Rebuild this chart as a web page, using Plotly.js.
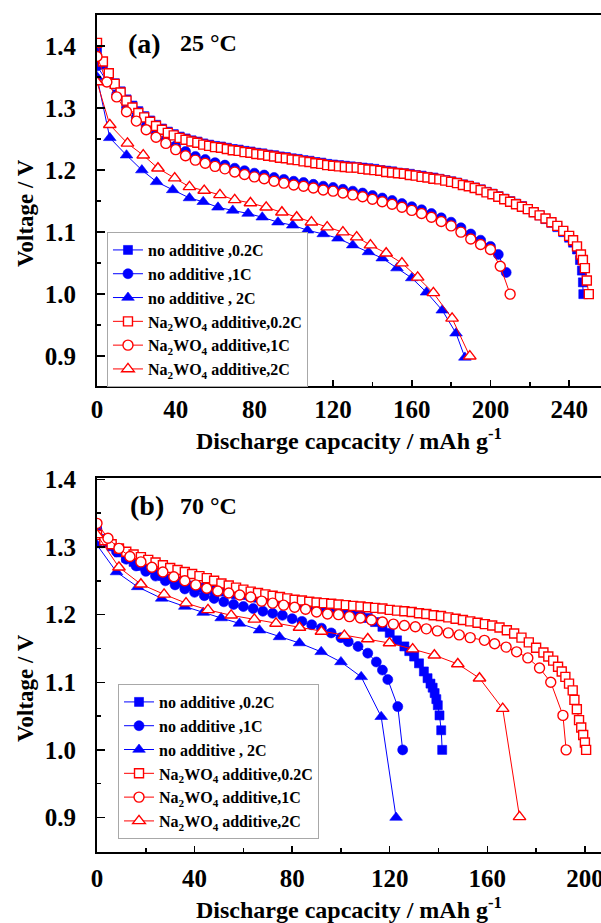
<!DOCTYPE html>
<html><head><meta charset="utf-8">
<script src="https://cdn.plot.ly/plotly-3.0.1.min.js"></script>
<style>html,body{margin:0;padding:0;background:#fff}#chart{width:601px;height:923px}</style>
</head><body><div id="chart"></div>
<script>
// ---------- Legend labels ----------
const names = [
  'no additive ,0.2C', 'no additive ,1C', 'no additive , 2C',
  'Na<sub>2</sub>WO<sub>4</sub> additive,0.2C', 'Na<sub>2</sub>WO<sub>4</sub> additive,1C', 'Na<sub>2</sub>WO<sub>4</sub> additive,2C'
];
const xTickLabelsTop = [0, 40, 80, 120, 160, 200, 240];
const xTickLabelsBottom = [0, 40, 80, 120, 160, 200];

// ---------- (a) 25 °C ----------
const a_no02_x = [0,3,6,9,12,15,18,21,24,27,30,33,36,39,42,45,48,51,54,57,60,63,66,69,72,75,78,81,84,87,90,93,96,99,102,105,108,111,114,117,120,123,126,129,132,135,138,141,144,147,150,153,156,159,162,165,168,171,174,177,180,183,186,189,192,195,198,201,204,207,210,213,216,219,222,225,228,231,234,237,240,242,244,245.5,246.5,247,247.2];
const a_no02_v = [1.392,1.370,1.355,1.340,1.327,1.314,1.304,1.295,1.287,1.280,1.273,1.267,1.262,1.258,1.254,1.251,1.248,1.246,1.243,1.241,1.239,1.238,1.236,1.234,1.233,1.231,1.230,1.228,1.227,1.225,1.224,1.222,1.221,1.219,1.218,1.216,1.215,1.213,1.212,1.210,1.209,1.208,1.207,1.206,1.205,1.204,1.203,1.202,1.200,1.199,1.198,1.196,1.195,1.194,1.192,1.191,1.189,1.188,1.186,1.184,1.182,1.180,1.177,1.175,1.172,1.169,1.165,1.162,1.158,1.154,1.150,1.146,1.142,1.137,1.132,1.127,1.121,1.115,1.108,1.100,1.091,1.083,1.072,1.055,1.038,1.019,1.000];
const a_no1_x = [0,5,10,15,20,25,30,35,40,45,50,55,60,65,70,75,80,85,90,95,100,105,110,115,120,125,130,135,140,145,150,155,160,165,170,175,180,185,190,195,200,204,208];
const a_no1_v = [1.368,1.343,1.322,1.301,1.285,1.271,1.259,1.249,1.239,1.230,1.222,1.217,1.212,1.208,1.203,1.199,1.195,1.192,1.188,1.185,1.182,1.180,1.177,1.174,1.172,1.169,1.166,1.163,1.159,1.155,1.151,1.146,1.141,1.136,1.130,1.123,1.116,1.107,1.097,1.087,1.077,1.064,1.035];
const a_no2_x = [0,6.5,15,22.8,30.3,38.5,47,54,61.5,69,76.8,84,92,99.5,107,115,122.5,130,138,145,152.5,160,167.5,175.5,182.5,187];
const a_no2_v = [1.350,1.252,1.224,1.200,1.181,1.168,1.155,1.149,1.140,1.135,1.130,1.124,1.116,1.111,1.103,1.097,1.090,1.079,1.068,1.058,1.042,1.026,1.003,0.974,0.937,0.898];
const a_na02_x = [0,3,6,9,12,15,18,21,24,27,30,33,36,39,42,45,48,51,54,57,60,63,66,69,72,75,78,81,84,87,90,93,96,99,102,105,108,111,114,117,120,123,126,129,132,135,138,141,144,147,150,153,156,159,162,165,168,171,174,177,180,183,186,189,192,195,198,201,204,207,210,213,216,219,222,225,228,231,234,237,240,242,244,246,247,248,249,250];
const a_na02_v = [1.405,1.375,1.356,1.339,1.325,1.312,1.301,1.292,1.285,1.278,1.271,1.265,1.260,1.256,1.252,1.249,1.246,1.244,1.241,1.239,1.237,1.236,1.234,1.232,1.231,1.229,1.228,1.226,1.225,1.223,1.222,1.220,1.219,1.217,1.216,1.214,1.213,1.211,1.210,1.208,1.207,1.206,1.205,1.204,1.204,1.202,1.201,1.200,1.199,1.197,1.196,1.195,1.194,1.192,1.191,1.189,1.188,1.186,1.185,1.183,1.181,1.179,1.176,1.174,1.171,1.168,1.164,1.161,1.157,1.153,1.149,1.145,1.141,1.137,1.132,1.127,1.122,1.116,1.110,1.102,1.094,1.087,1.077,1.064,1.055,1.042,1.022,1.000];
const a_na1_x = [0,5,10,15,20,25,30,35,40,45,50,55,60,65,70,75,80,85,90,95,100,105,110,115,120,125,130,135,140,145,150,155,160,165,170,175,180,185,190,195,200,205,210];
const a_na1_v = [1.383,1.342,1.318,1.294,1.279,1.265,1.253,1.243,1.233,1.223,1.216,1.211,1.206,1.202,1.197,1.193,1.189,1.186,1.182,1.179,1.176,1.174,1.171,1.168,1.166,1.163,1.160,1.157,1.153,1.149,1.145,1.140,1.135,1.130,1.124,1.117,1.110,1.100,1.089,1.080,1.072,1.045,1.000];
const a_na2_x = [0,6.5,15.5,23.5,31,39.5,47,54.5,62.5,70,78,86,94,101.5,109,117,125,132,139,147,155,163,171,180.5,189.5];
const a_na2_v = [1.342,1.273,1.243,1.224,1.203,1.187,1.173,1.167,1.160,1.152,1.147,1.140,1.132,1.124,1.116,1.108,1.100,1.092,1.079,1.066,1.050,1.027,1.002,0.961,0.900];

// ---------- (b) 70 °C ----------
const b_no02_x = [0,3,6,9,12,15,18,21,24,27,30,33,36,39,42,45,48,51,54,57,60,63,66,69,72,75,78,81,84,87,90,93,96,99,102,105,108,111,114,117,120,123,126,128,130,132,134,135.5,136.7,137.6,138.4,139.1,139.7,140.4,141.1,141.5];
const b_no02_v = [1.328,1.312,1.301,1.292,1.284,1.278,1.272,1.267,1.262,1.257,1.253,1.249,1.246,1.243,1.240,1.238,1.236,1.234,1.232,1.230,1.229,1.227,1.225,1.224,1.222,1.220,1.219,1.217,1.215,1.213,1.211,1.209,1.207,1.205,1.203,1.201,1.199,1.195,1.189,1.182,1.173,1.162,1.153,1.146,1.138,1.128,1.116,1.106,1.098,1.092,1.084,1.075,1.066,1.051,1.029,1.000];
const b_no1_x = [0,4,8,12,16,20,24,28,32,36,40,44,48,52,56,60,64,68,72,76,80,84,88,92,96,100,103,107,111,114.5,117,119.2,123.3,125.3];
const b_no1_v = [1.325,1.307,1.293,1.282,1.272,1.264,1.257,1.250,1.244,1.238,1.233,1.228,1.224,1.219,1.215,1.212,1.209,1.205,1.202,1.199,1.194,1.190,1.185,1.180,1.173,1.166,1.160,1.153,1.143,1.130,1.118,1.104,1.064,1.000];
const b_no2_x = [0,8,16.7,26.5,36,43.5,50.9,58.4,66.6,74.8,83,91.9,100,108.3,116.5,122.6];
const b_no2_v = [1.303,1.263,1.241,1.224,1.212,1.203,1.195,1.187,1.177,1.167,1.158,1.145,1.130,1.108,1.049,0.900];
const b_na02_x = [0,3,6,9,12,15,18,21,24,27,30,33,36,39,42,45,48,51,54,57,60,63,66,69,72,75,78,81,84,87,90,93,96,99,102,105,108,111,114,117,120,123,126,129,132,135,138,141,144,147,150,153,156,159,162,165,168,171,174,177,180,183,185,187,189,190.5,192,193.5,195,195.7,196.7,197.6,198.5,199.3,200,200.5];
const b_na02_v = [1.318,1.310,1.304,1.298,1.293,1.289,1.285,1.281,1.277,1.273,1.269,1.266,1.263,1.260,1.257,1.254,1.250,1.246,1.243,1.240,1.237,1.234,1.232,1.230,1.228,1.226,1.224,1.222,1.221,1.219,1.218,1.217,1.216,1.215,1.214,1.213,1.212,1.211,1.210,1.209,1.207,1.206,1.205,1.204,1.202,1.201,1.199,1.198,1.196,1.194,1.192,1.190,1.188,1.186,1.184,1.181,1.177,1.172,1.166,1.159,1.151,1.144,1.138,1.132,1.123,1.116,1.108,1.098,1.088,1.074,1.060,1.044,1.033,1.022,1.011,1.000];
const b_na1_x = [0,4.5,9,13.5,18,22.5,27,31.5,36,40.5,45,49.5,54,58.5,63,67.5,72,76.5,81,85.5,90,94.5,99,103.5,108,112.5,117,121.5,126,130.5,135,139.5,144,148.5,153,158.8,163,167.7,172,176.6,181.4,186,191,192.3];
const b_na1_v = [1.335,1.313,1.298,1.286,1.278,1.270,1.263,1.256,1.250,1.244,1.239,1.235,1.232,1.229,1.226,1.220,1.217,1.214,1.211,1.208,1.204,1.201,1.200,1.197,1.195,1.192,1.189,1.186,1.184,1.182,1.179,1.176,1.173,1.170,1.166,1.162,1.157,1.152,1.145,1.136,1.121,1.100,1.051,1.000];
const b_na2_x = [0,9,18,27.5,36.5,45.5,55,64.5,73.4,83,92,101.4,111,119.9,129.4,138.3,147.9,156.8,166.3,173.2];
const b_na2_v = [1.318,1.270,1.245,1.230,1.217,1.207,1.199,1.193,1.187,1.181,1.175,1.169,1.164,1.158,1.149,1.140,1.127,1.106,1.061,0.901];

// ---------- styling ----------
const BLUE = '#0000ff', RED = '#ff0000';
const FONT = 'Liberation Serif, Times New Roman, serif';

function tr(x, y, name, color, symbol, open, size, xa, ya, leg) {
  return {
    x: x, y: y, name: name, type: 'scatter', mode: 'lines+markers',
    xaxis: xa, yaxis: ya, legend: leg,
    line: {color: color, width: 1},
    marker: {symbol: symbol, size: size, color: open ? '#ffffff' : color,
             line: {color: color, width: open ? 1.4 : 0.6}}
  };
}

const data = [
  tr(a_no02_x, a_no02_v, names[0], BLUE, 'square', false, 9, 'x', 'y', 'legend'),
  tr(a_no1_x, a_no1_v, names[1], BLUE, 'circle', false, 10, 'x', 'y', 'legend'),
  tr(a_no2_x, a_no2_v, names[2], BLUE, 'triangle-up', false, 11, 'x', 'y', 'legend'),
  tr(a_na02_x, a_na02_v, names[3], RED, 'square', true, 9, 'x', 'y', 'legend'),
  tr(a_na1_x, a_na1_v, names[4], RED, 'circle', true, 10, 'x', 'y', 'legend'),
  tr(a_na2_x, a_na2_v, names[5], RED, 'triangle-up', true, 11, 'x', 'y', 'legend'),
  tr(b_no02_x, b_no02_v, names[0], BLUE, 'square', false, 9, 'x2', 'y2', 'legend2'),
  tr(b_no1_x, b_no1_v, names[1], BLUE, 'circle', false, 10, 'x2', 'y2', 'legend2'),
  tr(b_no2_x, b_no2_v, names[2], BLUE, 'triangle-up', false, 11, 'x2', 'y2', 'legend2'),
  tr(b_na02_x, b_na02_v, names[3], RED, 'square', true, 9, 'x2', 'y2', 'legend2'),
  tr(b_na1_x, b_na1_v, names[4], RED, 'circle', true, 10, 'x2', 'y2', 'legend2'),
  tr(b_na2_x, b_na2_v, names[5], RED, 'triangle-up', true, 11, 'x2', 'y2', 'legend2')
];

const tickFont = {family: FONT, size: 25, color: '#000', weight: 'bold'};
const titleFont = {family: FONT, size: 24, color: '#000', weight: 'bold'};

function xAxis(range, anchor, vals, standoff, tstand) {
  return {
    domain: [0, 1], anchor: anchor, range: range,
    tickmode: 'array', tickvals: vals, ticktext: vals.map(String),
    ticks: 'inside', ticklen: 6, tickwidth: 1.5, tickcolor: '#000',
    ticklabelstandoff: standoff, ticklabeloverflow: 'allow',
    minor: {dtick: 20, tick0: 0, ticks: 'inside', ticklen: 4, tickwidth: 1.5, tickcolor: '#000', showgrid: false},
    showline: true, linewidth: 2, linecolor: '#000', mirror: true,
    showgrid: false, zeroline: false, tickfont: tickFont,
    title: {text: 'Discharge capcacity / mAh g<sup>-1</sup>', font: titleFont, standoff: tstand}
  };
}
function yAxis(domain, range, anchor) {
  return {
    domain: domain, anchor: anchor, range: range,
    tickmode: 'linear', tick0: 0.9, dtick: 0.1, tickformat: '.1f',
    ticks: 'inside', ticklen: 8, tickwidth: 1.5, tickcolor: '#000',
    ticklabelstandoff: 14,
    minor: {dtick: 0.05, tick0: 0.85, ticks: 'inside', ticklen: 4, tickwidth: 1.5, tickcolor: '#000', showgrid: false},
    showline: true, linewidth: 2, linecolor: '#000', mirror: false,
    showgrid: false, zeroline: false, tickfont: tickFont
  };
}
function legendCfg(x, y) {
  return {
    x: x, y: y, xref: 'paper', yref: 'paper', xanchor: 'left', yanchor: 'top',
    bgcolor: '#ffffff', bordercolor: '#a8a8a8', borderwidth: 1,
    font: {family: FONT, size: 16, color: '#000', weight: 'bold'},
    itemwidth: 30, tracegroupgap: 0, traceorder: 'normal'
  };
}
function ann(text, x, y, size, opts) {
  return Object.assign({text: text, x: x, y: y, xref: 'paper', yref: 'paper',
    xanchor: 'left', yanchor: 'middle', showarrow: false,
    font: {family: FONT, size: size, color: '#000', weight: 'bold'}}, opts || {});
}

const layout = {
  width: 601, height: 923,
  margin: {l: 97, r: 0, t: 15, b: 71},
  paper_bgcolor: '#ffffff', plot_bgcolor: '#ffffff',
  showlegend: true,
  xaxis: xAxis([0, 256.2], 'y', xTickLabelsTop, 0, 10),
  yaxis: yAxis([0.5568, 1], [0.852, 1.45], 'x'),
  xaxis2: xAxis([0, 206.6], 'y2', xTickLabelsBottom, 3, 11),
  yaxis2: yAxis([0, 0.4468], [0.849, 1.402], 'x2'),
  legend: legendCfg(0.0198, 0.7407),
  legend2: legendCfg(0.0417, 0.2007),
  annotations: [
    ann('Voltage / V', -0.1429, 0.7634, 23, {textangle: -90, xanchor: 'center'}),
    ann('Voltage / V', -0.1429, 0.1959, 23, {textangle: -90, xanchor: 'center'}),
    ann('(a)', 0.0575, 0.9665, 28),
    ann('25 °C', 0.1607, 0.9665, 24),
    ann('(b)', 0.0615, 0.4134, 28),
    ann('70 °C', 0.1607, 0.4134, 24)
  ]
};

Plotly.newPlot('chart', data, layout, {displayModeBar: false, staticPlot: true});
</script>
</body></html>
